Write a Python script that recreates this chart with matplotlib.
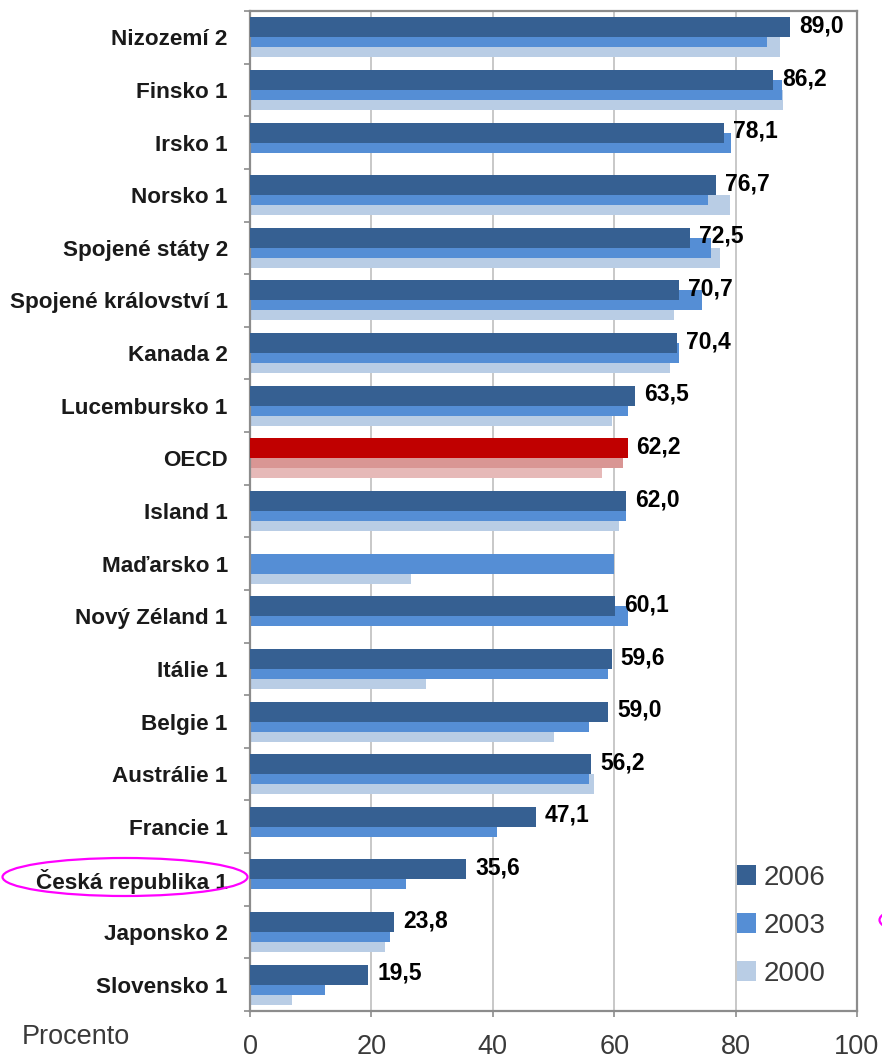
import matplotlib
matplotlib.use("Agg")
import matplotlib.pyplot as plt
import numpy as np
from matplotlib.patches import Ellipse, Patch

nan = np.nan

# data (percent)
countries = ["Nizozemí 2", "Finsko 1", "Irsko 1", "Norsko 1", "Spojené státy 2",
             "Spojené království 1", "Kanada 2", "Lucembursko 1", "OECD", "Island 1",
             "Maďarsko 1", "Nový Zéland 1", "Itálie 1", "Belgie 1", "Austrálie 1",
             "Francie 1", "Česká republika 1", "Japonsko 2", "Slovensko 1"]
v2006 = [89.0, 86.2, 78.1, 76.7, 72.5, 70.7, 70.4, 63.5, 62.2, 62.0,
         nan, 60.1, 59.6, 59.0, 56.2, 47.1, 35.6, 23.8, 19.5]
v2003 = [85.1, 87.6, 79.3, 75.4, 75.9, 74.4, 70.6, 62.2, 61.4, 61.9,
         60.0, 62.2, 58.9, 55.8, 55.8, 40.7, 25.7, 23.1, 12.3]
v2000 = [87.3, 87.8, nan, 79.0, 77.5, 69.8, 69.2, 59.7, 58.0, 60.8,
         26.6, nan, 29.0, 50.0, 56.7, nan, nan, 22.3, 7.0]
years = ["2006", "2003", "2000"]
xticks = [0, 20, 40, 60, 80, 100]

# colours
c_blue = ["#366092", "#558ED5", "#B9CDE5"]
c_oecd = ["#C00000", "#D99694", "#E6B9B8"]
grey_txt = "#3A3A3A"
frame = "#8C8C8C"

plt.rcParams["font.family"] = ["Liberation Sans", "DejaVu Sans"]

fig = plt.figure(figsize=(8.82, 10.59), dpi=100)
ax = fig.add_axes([250/882, 1-1011/1059, 607/882, 1000/1059])

y = np.arange(len(countries))
h = 0.38
off = 0.19
series = [v2006, v2003, v2000]
shifts = [-off, 0.0, off]
zs = [3, 2, 1]
for k in range(3):
    cols = [c_oecd[k] if c == "OECD" else c_blue[k] for c in countries]
    ax.barh(y + shifts[k], np.array(series[k], dtype=float), height=h,
            color=cols, zorder=zs[k])

# value labels on 2006 bars
for yi, v in zip(y, v2006):
    if np.isnan(v):
        continue
    ax.annotate(f"{v:.1f}".replace(".", ","), (v, yi - off), xytext=(6.5, 1),
                textcoords="offset points", ha="left", va="center",
                fontsize=16.5, fontweight="bold", color="black", zorder=5)

ax.set_xlim(0, 100)
ax.set_ylim(len(countries) - 0.5, -0.5)

ax.set_xticks(xticks)
ax.set_xticklabels([str(t) for t in xticks], fontsize=19.5, color=grey_txt)
ax.tick_params(axis="x", direction="out", length=4.5, width=1.2, color=frame, pad=12)

ax.set_yticks(y)
ax.set_yticklabels(countries, fontsize=16.2, fontweight="bold", color="#1A1A1A")
ax.set_yticks(np.arange(len(countries) + 1) - 0.5, minor=True)
ax.tick_params(axis="y", which="major", length=0, pad=16)
ax.tick_params(axis="y", which="minor", direction="out", length=4.5, width=1.2, color=frame)

ax.xaxis.grid(True, color="#BFBFBF", lw=1.2, zorder=0)
ax.set_axisbelow(True)
for s in ax.spines.values():
    s.set_color(frame)
    s.set_linewidth(1.6)

handles = [Patch(facecolor=c_blue[k], label=years[k]) for k in range(3)]
ax.legend(handles=handles, loc="lower left", bbox_to_anchor=(0.802, 0.024),
          frameon=False, fontsize=20, labelcolor=grey_txt, handlelength=0.7,
          handleheight=0.75, handletextpad=0.25, labelspacing=0.8,
          borderpad=0, borderaxespad=0)

fig.text(22/882, 1-1037/1059, "Procento", fontsize=19.5, color=grey_txt,
         ha="left", va="center")

# magenta highlight rings
fig.add_artist(Ellipse((125/882, 1-877/1059), 245/882, 38/1059,
                       transform=fig.transFigure, fill=False,
                       edgecolor="#FF00FF", lw=1.6))
fig.add_artist(Ellipse((962/882, 1-920/1059), 165/882, 38/1059,
                       transform=fig.transFigure, fill=False,
                       edgecolor="#FF00FF", lw=1.6))

fig.savefig("out.png", dpi=100)
